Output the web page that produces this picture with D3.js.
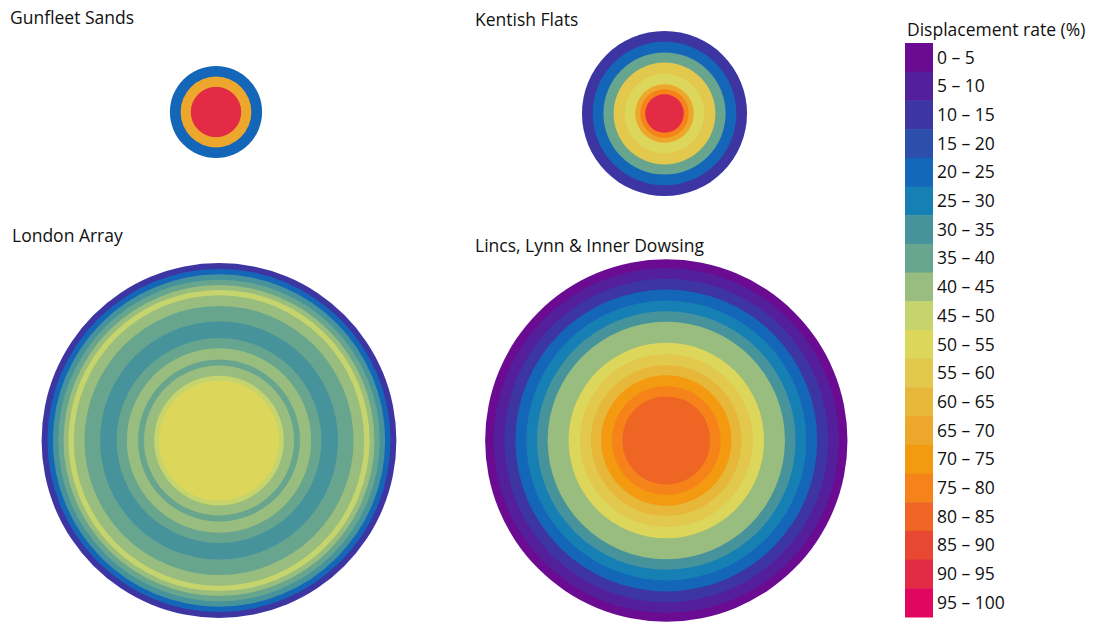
<!DOCTYPE html>
<html><head><meta charset="utf-8">
<script src="https://cdn.jsdelivr.net/npm/d3@7"></script>
<style>html,body{margin:0;padding:0;background:#fff;}svg{display:block;}</style>
</head><body>
<script>
// ---- data ----
const rateLabels = ["0 – 5","5 – 10","10 – 15","15 – 20","20 – 25","25 – 30","30 – 35","35 – 40","40 – 45","45 – 50","50 – 55","55 – 60","60 – 65","65 – 70","70 – 75","75 – 80","80 – 85","85 – 90","90 – 95","95 – 100"];
const rateColors = ["#6a0b91","#541f9b","#3d36a2","#2b4fab","#1366b8","#1680b4","#46939c","#68a58e","#98bd7e","#c5d46c","#dcd65a","#e2c84c","#e7b73a","#eda72c","#f49a10","#f5831a","#ef6524","#e84732","#e42b45","#e1065f"];
const farmNames = ["Gunfleet Sands","Kentish Flats","London Array","Lincs, Lynn & Inner Dowsing"];
// ring outer radius (km) and displacement rate (%) per ring, outer to inner
const gunfleetRadius = [4.3, 3.3, 2.35];
const gunfleetRate   = [22, 67, 92];
const kentishRadius  = [7.7, 6.7, 5.7, 4.75, 3.72, 2.73, 2.26, 1.8];
const kentishRate    = [12, 22, 37, 57, 52, 67, 77, 92];
const londonRadius   = [16.55, 16.0, 15.5, 15.0, 14.5, 14.05, 13.55, 12.55, 11.1, 9.55, 8.6, 7.55, 7.0, 6.05, 5.6];
const londonRate     = [12, 22, 32, 37, 42, 47, 42, 37, 32, 37, 42, 37, 42, 47, 52];
const lincsRadius    = [16.9, 16.1, 15.1, 14.08, 13.06, 12.06, 11.07, 9.12, 8.07, 7.03, 6.08, 5.07, 4.11];
const lincsRate      = [2, 7, 12, 22, 27, 32, 42, 52, 57, 62, 72, 77, 82];

const W = 1098, H = 622;
const svg = d3.select("body").append("svg").attr("width", W).attr("height", H);
const font = "'Open Sans', sans-serif";
const fs = 17.5;

const color = d3.scaleQuantize().domain([0, 100]).range(rateColors);
const rScale = d3.scaleLinear().domain([0, 1]).range([0, 10.72]);

const farms = [
  {name: farmNames[0], radius: gunfleetRadius, rate: gunfleetRate, cx: 216, cy: 112, tx: 10, ty: 24},
  {name: farmNames[1], radius: kentishRadius, rate: kentishRate, cx: 664.5, cy: 113.5, tx: 475, ty: 26},
  {name: farmNames[2], radius: londonRadius, rate: londonRate, cx: 219, cy: 440.5, tx: 12, ty: 242},
  {name: farmNames[3], radius: lincsRadius, rate: lincsRate, cx: 666.3, cy: 440.5, tx: 475, ty: 252}
];

farms.forEach(f => {
  const g = svg.append("g").attr("transform", `translate(${f.cx},${f.cy})`);
  g.selectAll("circle").data(d3.zip(f.radius, f.rate)).join("circle")
    .attr("r", d => rScale(d[0]))
    .attr("fill", d => color(d[1]));
  svg.append("text").attr("x", f.tx).attr("y", f.ty)
    .attr("font-family", font).attr("font-size", fs).attr("fill", "#111")
    .text(f.name);
});

// legend
const legY = d3.scaleBand().domain(rateLabels).range([43, 617]).padding(0);
const leg = svg.append("g");
leg.append("text").attr("x", 907).attr("y", 36).attr("font-family", font)
  .attr("font-size", fs).attr("fill", "#111").text("Displacement rate (%)");
leg.selectAll("rect").data(rateLabels).join("rect")
  .attr("x", 905).attr("y", d => legY(d)).attr("width", 28).attr("height", legY.bandwidth() + 0.5)
  .attr("fill", (d, i) => rateColors[i]);
leg.selectAll("text.lab").data(rateLabels).join("text").attr("class", "lab")
  .attr("x", 937).attr("y", d => legY(d) + legY.bandwidth() / 2 + 1.5)
  .attr("dominant-baseline", "middle")
  .attr("font-family", font).attr("font-size", fs).attr("fill", "#111")
  .text(d => d);
</script>
</body></html>
